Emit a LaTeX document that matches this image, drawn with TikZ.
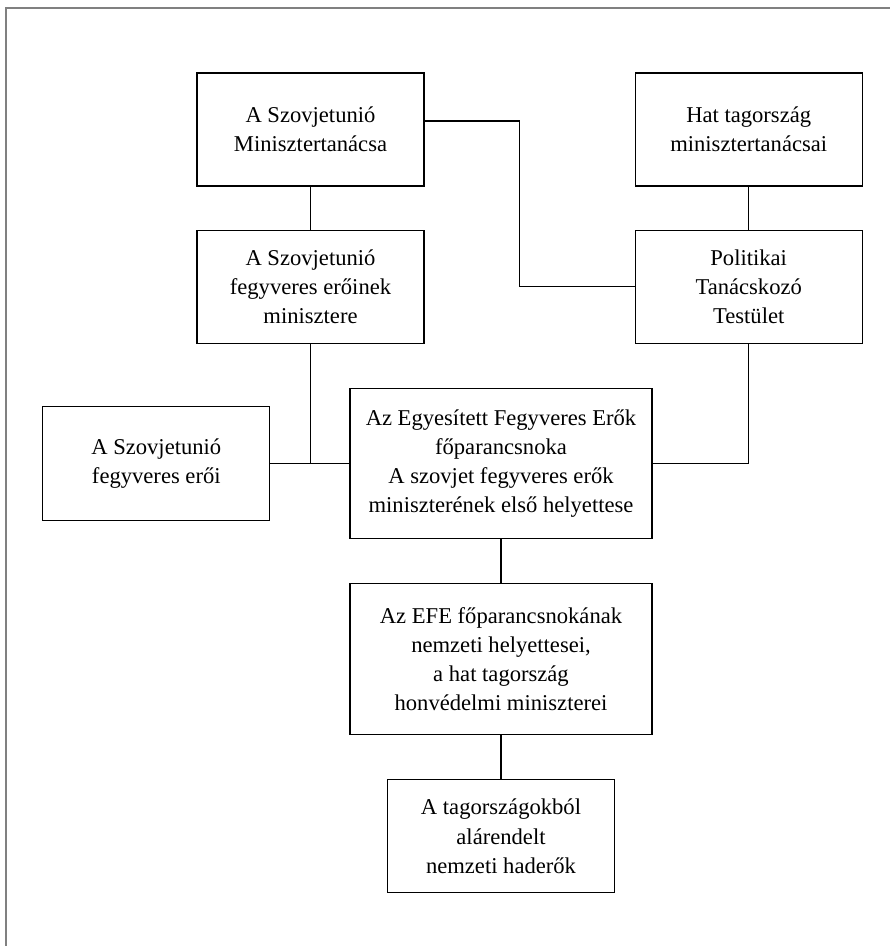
\documentclass[tikz,border=0pt]{standalone}
\usepackage{fontspec}
\setmainfont{Liberation Serif}
\usetikzlibrary{positioning}

\begin{document}
\begin{tikzpicture}[node distance=21.5pt, line width=0.6pt,
    unit/.style={draw, align=center, minimum width=113.5pt, minimum height=56.5pt,
        inner sep=2pt, font=\fontsize{11.3}{14.6}\selectfont},
    wide/.style={unit, minimum width=151pt, minimum height=75pt},
    frame/.style={draw=gray, line width=1pt}]

    \useasboundingbox (-155.25pt,-408.25pt) rectangle (289.75pt,64.75pt);
    \draw[frame] (-152pt,-408.25pt) |- (289.75pt,60.5pt);

    \node[unit] (sztanacs) {A Szovjetunió\\Minisztertanácsa};
    \node[unit] (miniszter) [below=of sztanacs] {A Szovjetunió\\fegyveres erőinek\\minisztere};
    \node[unit] (hat) [right=105pt of sztanacs] {Hat tagország\\minisztertanácsai};
    \node[unit] (ptt) [below=of hat] {Politikai\\Tanácskozó\\Testület};
    \node[wide] (efp) [below=22pt of miniszter, xshift=95.25pt]
        {Az Egyesített Fegyveres Erők\\főparancsnoka\\A szovjet fegyveres erők\\miniszterének első helyettese};
    \node[unit, minimum height=57pt] (sziero) [left=39.5pt of efp] {A Szovjetunió\\fegyveres erői};
    \node[wide, minimum height=75.5pt] (efe) [below=22pt of efp]
        {Az EFE főparancsnokának\\nemzeti helyettesei,\\a hat tagország\\honvédelmi miniszterei};
    \node[unit] (haderok) [below=22pt of efe] {A tagországokból\\alárendelt\\nemzeti haderők};

    \draw (sztanacs) -- (miniszter);
    \draw (hat) -- (ptt);
    \draw ([yshift=4.25pt]sztanacs.east) -- ++(47.5pt,0) |- (ptt);
    \draw (miniszter) |- (efp);
    \draw (sziero) -- (efp);
    \draw (ptt) |- (efp);
    \draw (efp) -- (efe);
    \draw (efe) -- (haderok);
\end{tikzpicture}
\end{document}
